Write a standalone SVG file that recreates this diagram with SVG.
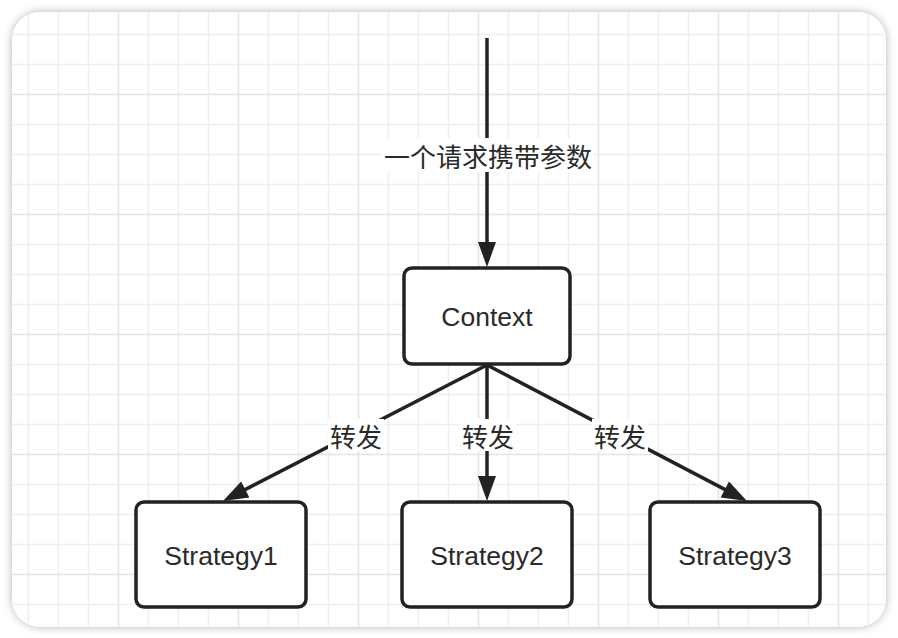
<svg xmlns="http://www.w3.org/2000/svg" width="898" height="638" viewBox="0 0 898 638">
<style>
.minor{stroke:#efefef;stroke-width:1.5}
.major{stroke:#e3e3e3;stroke-width:1.5}
.box{fill:#ffffff;stroke:#222222;stroke-width:3.5}
.edge{stroke:#222222;stroke-width:3.5;fill:none}
.lbl{font-family:"Liberation Sans","Noto Sans CJK SC",sans-serif;font-size:26.5px;fill:#2a2a2a;text-anchor:middle}
.cjk{font-family:"Noto Sans CJK SC","Liberation Sans",sans-serif;font-size:26px;fill:#2a2a2a;text-anchor:middle;dominant-baseline:central}
.lblbg{fill:#ffffff}
</style>
<defs>
<filter id="sh" x="-5%" y="-5%" width="110%" height="110%">
<feDropShadow dx="0" dy="0" stdDeviation="4" flood-color="#000000" flood-opacity="0.3"/>
</filter>
<clipPath id="frameclip"><rect x="12" y="12" width="874" height="615" rx="28"/></clipPath>
<marker id="ah" viewBox="-16 -10 27 20" markerWidth="27" markerHeight="20" refX="0" refY="0" markerUnits="userSpaceOnUse" orient="auto">
<path d="M10,0 L-15,-9 L-15,9 Z" fill="#222222"/>
</marker>
</defs>
<rect width="898" height="638" fill="#ffffff"/>
<rect id="frame" x="12" y="12" width="874" height="615" rx="28" fill="#ffffff" filter="url(#sh)"/>
<g id="grid" clip-path="url(#frameclip)">
<g class="minor">
<line x1="28.5" y1="12" x2="28.5" y2="627"/><line x1="58.5" y1="12" x2="58.5" y2="627"/><line x1="88.5" y1="12" x2="88.5" y2="627"/>
<line x1="148.5" y1="12" x2="148.5" y2="627"/><line x1="178.5" y1="12" x2="178.5" y2="627"/><line x1="208.5" y1="12" x2="208.5" y2="627"/>
<line x1="268.5" y1="12" x2="268.5" y2="627"/><line x1="298.5" y1="12" x2="298.5" y2="627"/><line x1="328.5" y1="12" x2="328.5" y2="627"/>
<line x1="388.5" y1="12" x2="388.5" y2="627"/><line x1="418.5" y1="12" x2="418.5" y2="627"/><line x1="448.5" y1="12" x2="448.5" y2="627"/>
<line x1="508.5" y1="12" x2="508.5" y2="627"/><line x1="538.5" y1="12" x2="538.5" y2="627"/><line x1="568.5" y1="12" x2="568.5" y2="627"/>
<line x1="628.5" y1="12" x2="628.5" y2="627"/><line x1="658.5" y1="12" x2="658.5" y2="627"/><line x1="688.5" y1="12" x2="688.5" y2="627"/>
<line x1="748.5" y1="12" x2="748.5" y2="627"/><line x1="778.5" y1="12" x2="778.5" y2="627"/><line x1="808.5" y1="12" x2="808.5" y2="627"/>
<line x1="868.5" y1="12" x2="868.5" y2="627"/>
<line x1="12" y1="34.5" x2="886" y2="34.5"/><line x1="12" y1="64.5" x2="886" y2="64.5"/>
<line x1="12" y1="124.5" x2="886" y2="124.5"/><line x1="12" y1="154.5" x2="886" y2="154.5"/><line x1="12" y1="184.5" x2="886" y2="184.5"/>
<line x1="12" y1="244.5" x2="886" y2="244.5"/><line x1="12" y1="274.5" x2="886" y2="274.5"/><line x1="12" y1="304.5" x2="886" y2="304.5"/>
<line x1="12" y1="364.5" x2="886" y2="364.5"/><line x1="12" y1="394.5" x2="886" y2="394.5"/><line x1="12" y1="424.5" x2="886" y2="424.5"/>
<line x1="12" y1="484.5" x2="886" y2="484.5"/><line x1="12" y1="514.5" x2="886" y2="514.5"/><line x1="12" y1="544.5" x2="886" y2="544.5"/>
<line x1="12" y1="604.5" x2="886" y2="604.5"/>
</g>
<g class="major">
<line x1="118.5" y1="12" x2="118.5" y2="627"/><line x1="238.5" y1="12" x2="238.5" y2="627"/><line x1="358.5" y1="12" x2="358.5" y2="627"/>
<line x1="478.5" y1="12" x2="478.5" y2="627"/><line x1="598.5" y1="12" x2="598.5" y2="627"/><line x1="718.5" y1="12" x2="718.5" y2="627"/>
<line x1="838.5" y1="12" x2="838.5" y2="627"/>
<line x1="12" y1="94.5" x2="886" y2="94.5"/><line x1="12" y1="214.5" x2="886" y2="214.5"/><line x1="12" y1="334.5" x2="886" y2="334.5"/>
<line x1="12" y1="454.5" x2="886" y2="454.5"/><line x1="12" y1="574.5" x2="886" y2="574.5"/>
</g>
</g>
<g id="connectors">
<g id="edge-request">
<line class="edge" x1="487" y1="38" x2="487" y2="257" marker-end="url(#ah)"/>
<rect class="lblbg" x="382" y="138" width="212" height="34"/>
<text class="cjk" x="488" y="155">一个请求携带参数</text>
</g>
<g id="edge-s1">
<line class="edge" x1="487" y1="365" x2="231.9" y2="496.4" marker-end="url(#ah)"/>
<rect class="lblbg" x="328" y="419" width="56" height="32"/>
<text class="cjk" x="356" y="435">转发</text>
</g>
<g id="edge-s2">
<line class="edge" x1="487" y1="365" x2="487" y2="491" marker-end="url(#ah)"/>
<rect class="lblbg" x="460" y="419" width="56" height="32"/>
<text class="cjk" x="488" y="435">转发</text>
</g>
<g id="edge-s3">
<line class="edge" x1="487" y1="365" x2="738.1" y2="496.4" marker-end="url(#ah)"/>
<rect class="lblbg" x="592" y="419" width="56" height="32"/>
<text class="cjk" x="620" y="435">转发</text>
</g>
</g>
<g id="node-context">
<rect class="box" x="404" y="268" width="166" height="96" rx="8"/>
<text class="lbl" x="487" y="325.5">Context</text>
</g>
<g id="node-strategy1">
<rect class="box" x="136" y="502" width="170" height="105" rx="8"/>
<text class="lbl" x="221" y="565">Strategy1</text>
</g>
<g id="node-strategy2">
<rect class="box" x="402" y="502" width="170" height="105" rx="8"/>
<text class="lbl" x="487" y="565">Strategy2</text>
</g>
<g id="node-strategy3">
<rect class="box" x="650" y="502" width="170" height="105" rx="8"/>
<text class="lbl" x="735" y="565">Strategy3</text>
</g>
</svg>
